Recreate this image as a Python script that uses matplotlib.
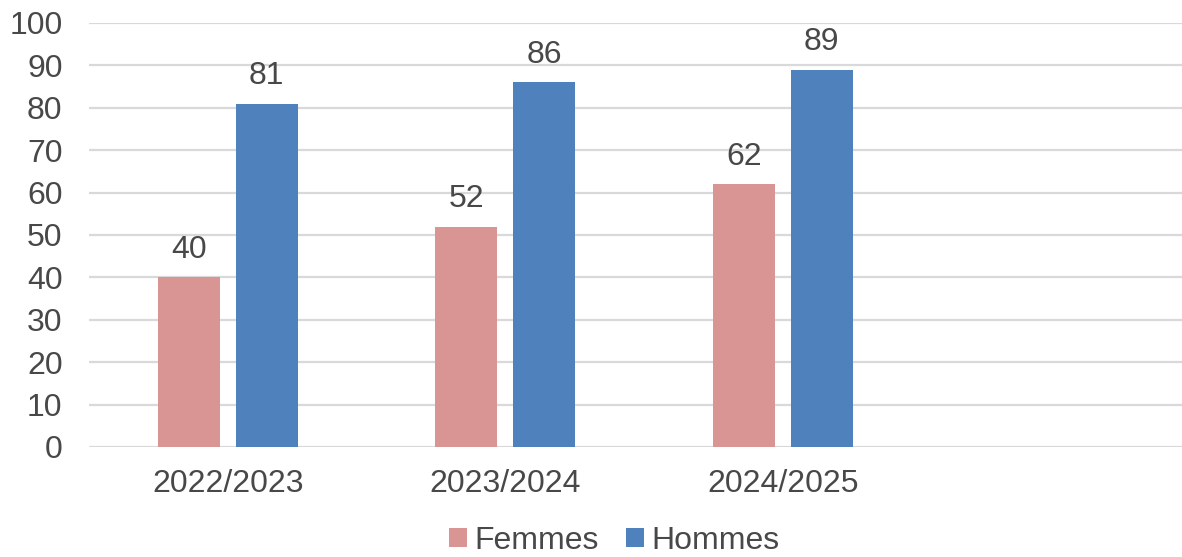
import numpy as np
import matplotlib.pyplot as plt

years = ['2022/2023', '2023/2024', '2024/2025']
femmes = [40, 52, 62]
hommes = [81, 86, 89]

plt.rcParams['font.family'] = ['Liberation Sans', 'DejaVu Sans']
txt = '#484848'

fig = plt.figure(figsize=(11.82, 5.57), dpi=100)
ax = fig.add_axes([89 / 1182, 1 - 447 / 557, 1 - 89 / 1182, (447 - 23) / 557])

x = np.arange(len(years))
w = 0.2234
off = 0.1405
b1 = ax.bar(x - off, femmes, w, color='#D99594', label='Femmes', zorder=3)
b2 = ax.bar(x + off, hommes, w, color='#4F81BD', label='Hommes', zorder=3)

# value labels above bars
for bars, vals in [(b1, femmes), (b2, hommes)]:
    for r, v in zip(bars, vals):
        ax.annotate(str(v), (r.get_x() + r.get_width() / 2, v), xytext=(0, 9),
                    textcoords='offset points', ha='center', va='bottom',
                    fontsize=23, color=txt)

ax.set_ylim(0, 100)
ax.set_yticks(range(0, 101, 10))
ax.set_xlim(-0.5, 3.439)
ax.set_xticks(x)
ax.set_xticklabels(years)
ax.grid(axis='y', color='#d9d9d9', linewidth=1.6, zorder=0)
ax.tick_params(axis='both', length=0, labelsize=23, labelcolor=txt)
ax.tick_params(axis='y', pad=19)
ax.tick_params(axis='x', pad=16)
for s in ax.spines.values():
    s.set_visible(False)

fig.legend(loc='center', bbox_to_anchor=(614.5 / 1182, 1 - 541 / 557), ncol=2,
           frameon=False, fontsize=23, labelcolor=txt, handlelength=0.55,
           handleheight=0.55, handletextpad=0.25, columnspacing=0.85)

fig.savefig('out.png', dpi=100)
